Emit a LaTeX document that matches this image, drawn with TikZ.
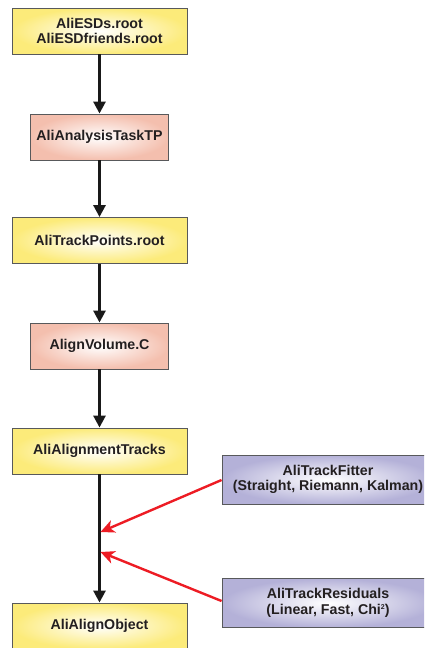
\documentclass[tikz,border=0pt]{standalone}
\usepackage{fontspec}
\setmainfont{Liberation Sans}
\usetikzlibrary{arrows.meta}
\definecolor{yelC}{HTML}{FCEB7A}
\definecolor{salC}{HTML}{F4BFAE}
\definecolor{purC}{HTML}{B4B1D8}
\definecolor{txtC}{HTML}{231F20}
\definecolor{bordC}{HTML}{58595B}
\definecolor{redC}{HTML}{ED1C24}
\newcommand{\tinysup}[1]{\raisebox{5pt}{\fontsize{7}{7}\selectfont #1}}
\begin{document}
\begin{tikzpicture}[x=1pt,y=-1pt,
  box/.style={draw=bordC, line width=0.9pt, inner sep=0pt, align=center,
    text=txtC, font=\fontsize{14.2}{15.5}\selectfont\bfseries, shading=radial, inner color=white},
  ybox/.style={box, outer color=yelC, minimum width=175pt, minimum height=46pt},
  sbox/.style={box, outer color=salC, minimum width=138pt, minimum height=46pt},
  pbox/.style={box, outer color=purC, minimum width=212pt, minimum height=49pt},
  flow/.style={line width=2.8pt, draw=black!90, -{Triangle[width=12pt,length=12pt]}},
  redarr/.style={line width=2.4pt, draw=redC, -{Stealth[width=13pt,length=14pt,inset=4pt]}}]
\useasboundingbox (0,0) rectangle (424,648);
\clip (0,0) rectangle (424,648);
\node[ybox] (esd) at (99.5,31) {AliESDs.root\\AliESDfriends.root};
\node[sbox] (task) at (99.5,137) {AliAnalysisTaskTP};
\node[ybox] (tp) at (99.5,240.5) {AliTrackPoints.root};
\node[sbox] (vol) at (99.5,346) {AlignVolume.C};
\node[ybox] (at) at (99.5,451) {AliAlignmentTracks};
\node[ybox] (ao) at (99.5,626) {AliAlignObject};
\node[pbox] (fit) at (328,479.5) {AliTrackFitter\\(Straight, Riemann, Kalman)};
\node[pbox] (res) at (328,603) {AliTrackResiduals\\(Linear, Fast, Chi\tinysup{2})};
\coordinate (t1) at (100.5,532);
\coordinate (t2) at (100.5,552);
\draw[flow] (esd) -- (task);
\draw[flow] (task) -- (tp);
\draw[flow] (tp) -- (vol);
\draw[flow] (vol) -- (at);
\draw[flow] (at) -- (ao);
\draw[redarr] (fit.west |- 0,480) -- (t1);
\draw[redarr] (res.west |- 0,601) -- (t2);
\end{tikzpicture}
\end{document}
